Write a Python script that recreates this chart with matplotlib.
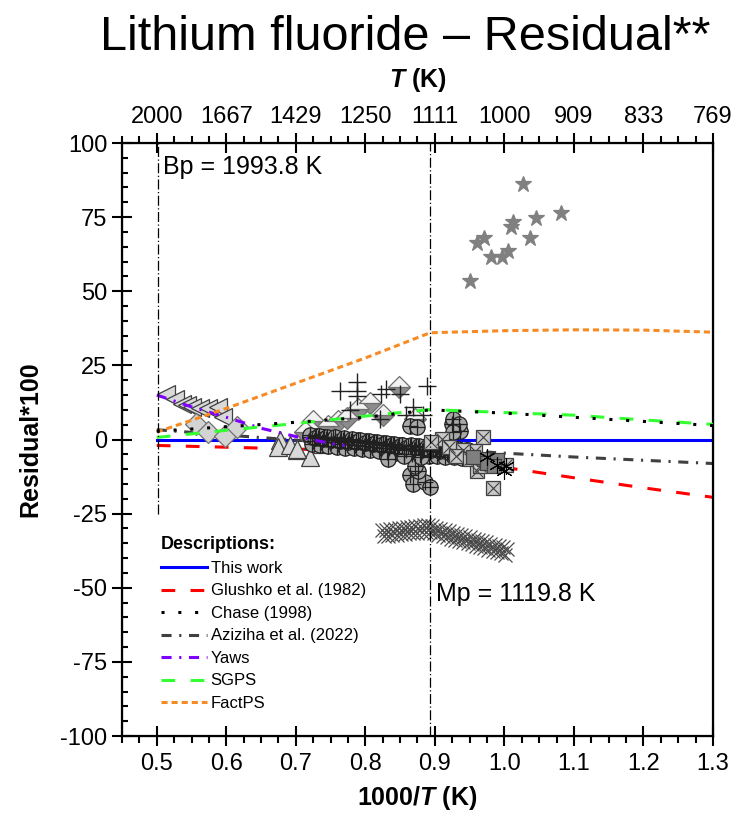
import matplotlib
matplotlib.use("Agg")
import matplotlib.pyplot as plt
from matplotlib.ticker import MultipleLocator, FixedLocator

plt.rcParams['font.family'] = ['Liberation Sans', 'DejaVu Sans']
plt.rcParams['axes.unicode_minus'] = False
plt.rcParams['mathtext.fontset'] = 'custom'
plt.rcParams['mathtext.rm'] = 'Liberation Sans:bold'
plt.rcParams['mathtext.it'] = 'Liberation Sans:italic:bold'

# model curves (1000/T grid, residual*100)
model_x = [0.5, 0.6, 0.7, 0.8, 0.893, 1.0, 1.1, 1.2, 1.3]
this_work = [0, 0, 0, 0, 0, 0, 0, 0, 0]
glushko = [-2.0, -2.6, -3.2, -4.0, -5.0, -9.4, -12.9, -16.3, -19.5]
chase = [2.8, 4.3, 5.8, 7.5, 10.0, 8.9, 7.5, 6.1, 4.7]
aziziha = [3.3, 1.5, -0.2, -1.7, -3.0, -4.6, -5.9, -7.0, -8.1]
sgps = [0.7, 3.1, 5.4, 7.9, 10.1, 9.1, 8.2, 6.6, 5.1]
factps = [2.5, 10.5, 19.0, 27.5, 36.0, 36.7, 37.0, 36.9, 36.2]
yaws_x = [0.5, 0.55, 0.6, 0.65, 0.7, 0.75, 0.77]
yaws = [15.0, 11.0, 7.5, 3.8, 1.0, -1.3, -2.0]

bp_K = 1993.8
mp_K = 1119.8

# experimental points
star_x = [1.027, 1.081, 1.045, 1.012, 1.010, 1.037, 0.970, 0.960, 1.005, 0.981, 0.997, 0.950]
star_y = [86.2, 76.5, 74.6, 73.3, 71.8, 68.0, 68.0, 66.3, 63.7, 61.7, 61.5, 53.4]

ltri_x = [0.514, 0.526, 0.536, 0.543, 0.550, 0.562, 0.573, 0.588, 0.595]
ltri_y = [15.4, 13.7, 12.1, 11.5, 10.9, 10.5, 10.5, 10.9, 7.5]

diam_x = [0.557, 0.574, 0.598, 0.615]
diam_y = [5.3, 2.5, 1.3, 4.1]

half_x = [0.725, 0.746, 0.761, 0.773, 0.790, 0.806, 0.826, 0.849, 0.871, 0.722, 0.713]
half_y = [6.4, 4.4, 6.4, 7.3, 10.3, 12.2, 8.4, 17.6, 7.0, 3.0, 2.5]

plus_x = [0.763, 0.788, 0.788, 0.788, 0.823, 0.830, 0.821, 0.778, 0.869, 0.859, 0.883, 0.888, 0.850]
plus_y = [16.5, 19.3, 16.5, 14.8, 15.4, 17.1, 7.0, 9.8, 11.1, 8.1, 8.1, 18.2, 15.4]

utri_x = [0.677, 0.675, 0.691, 0.701, 0.720, 0.725, 0.701, 0.738]
utri_y = [-0.3, -2.6, -2.0, -3.7, -6.0, -0.3, -3.1, -1.5]

circ_x = [0.720, 0.726, 0.732, 0.738, 0.744, 0.750, 0.756, 0.762, 0.768, 0.774,
          0.780, 0.786, 0.792, 0.798, 0.804, 0.810, 0.816, 0.822, 0.828, 0.834,
          0.840, 0.846, 0.852, 0.858, 0.864, 0.870, 0.876, 0.882, 0.888, 0.894,
          0.900, 0.906, 0.912, 0.918, 0.924, 0.930, 0.936, 0.942, 0.948,
          0.723, 0.729, 0.735, 0.741, 0.747, 0.753, 0.759, 0.765, 0.771, 0.777,
          0.783, 0.789, 0.795, 0.801, 0.807, 0.813, 0.819, 0.825, 0.831, 0.837,
          0.843, 0.849, 0.855, 0.861, 0.867, 0.873, 0.879, 0.885, 0.891, 0.897,
          0.903, 0.909, 0.915, 0.921, 0.927, 0.933, 0.939, 0.945,
          0.721, 0.727, 0.733, 0.739, 0.745, 0.751, 0.757, 0.763, 0.769, 0.775,
          0.781, 0.787, 0.793, 0.799, 0.805, 0.811, 0.817, 0.823, 0.829, 0.835,
          0.841, 0.847, 0.853, 0.859, 0.865, 0.871, 0.877, 0.883, 0.889, 0.895,
          0.901, 0.907, 0.913, 0.919, 0.925, 0.931, 0.937, 0.943,
          0.833, 0.864, 0.869, 0.886, 0.893, 0.876, 0.871, 0.864, 0.874, 0.924,
          0.936, 0.926, 0.934, 0.926, 0.917, 0.880, 0.855]
circ_y = [0.8, -0.5, 0.4, -0.8, 0.2, -1.0, 0.0, -1.4, -0.3, -1.6,
          -0.6, -2.0, -0.8, -2.2, -1.0, -2.4, -1.2, -2.8, -1.5, -3.0,
          -1.8, -3.3, -2.0, -3.5, -2.2, -3.6, -2.4, -3.8, -2.6, -4.0,
          -2.8, -4.2, -3.0, -4.4, -3.2, -4.6, -3.4, -4.8, -3.6,
          -1.5, 1.2, -1.8, 0.9, -2.1, 0.6, -2.4, 0.3, -2.7, 0.0,
          -3.0, -0.3, -3.3, -0.6, -3.6, -0.9, -3.9, -1.2, -4.2, -1.5,
          -4.5, -1.8, -4.8, -2.1, -5.0, -2.3, -5.2, -2.5, -5.4, -2.7,
          -5.6, -2.9, -5.8, -3.1, -6.0, -3.3, -6.2, -3.5,
          1.6, 0.5, 1.3, 0.2, 1.0, -0.1, 0.7, -0.4, 0.4, -0.7,
          0.1, -1.0, -0.2, -1.3, -0.5, -1.6, -0.8, -1.9, -1.1, -2.2,
          -1.4, -2.5, -1.7, -2.8, -2.0, -3.1, -2.3, -3.4, -2.6, -3.7,
          -2.9, -4.0, -3.2, -4.3, -3.5, -4.6, -3.8, -4.9,
          -6.5, -12.1, -15.0, -14.4, -16.1, -10.5, -8.8, 4.4, 4.1, 5.3,
          3.0, 7.0, 5.3, 2.5, -2.6, -6.0, -5.5]

sq_x = [0.969, 0.958, 0.960, 0.983, 1.003, 0.978, 0.941, 0.910, 0.895, 0.920, 0.930, 0.950, 0.965]
sq_y = [1.0, -4.0, -10.5, -16.3, -8.5, -7.4, -3.7, 0.2, -0.9, -2.5, -5.5, -6.5, -8.8]

dsq_x = [0.970, 0.975, 0.990, 0.985, 0.955]
dsq_y = [-6.5, -8.0, -7.0, -9.0, -6.0]

ast_x = [0.990, 1.000, 1.003, 0.975]
ast_y = [-8.5, -10.5, -9.0, -6.0]

cross_x = [0.824, 0.827, 0.830, 0.833, 0.836, 0.839, 0.842, 0.845, 0.848, 0.851,
           0.854, 0.857, 0.860, 0.863, 0.866, 0.869, 0.872, 0.875, 0.878, 0.881,
           0.884, 0.887, 0.890, 0.893, 0.896, 0.899, 0.902, 0.905, 0.908, 0.911,
           0.914, 0.917, 0.920, 0.923, 0.926, 0.929, 0.932, 0.935, 0.938, 0.941,
           0.944, 0.947, 0.950, 0.953, 0.956, 0.959, 0.962, 0.965, 0.968, 0.971,
           0.974, 0.977, 0.980, 0.983, 0.986, 0.989, 0.992, 0.995, 0.998, 1.001,
           1.004]
cross_y = [-30.5, -32.6, -30.4, -32.5, -30.2, -32.3, -30.1, -32.2, -29.9, -32.0,
           -29.8, -31.9, -29.6, -31.7, -29.4, -31.6, -29.3, -31.4, -29.1, -31.3,
           -29.0, -31.1, -28.9, -31.3, -29.3, -31.7, -29.7, -32.1, -30.1, -32.5,
           -30.5, -32.9, -30.9, -33.4, -31.4, -33.8, -31.8, -34.2, -32.2, -34.6,
           -32.6, -35.0, -33.0, -35.4, -33.4, -35.9, -33.9, -36.3, -34.3, -36.7,
           -34.7, -37.1, -35.1, -37.5, -35.5, -37.9, -36.0, -38.4, -36.4, -38.8,
           -36.8]

gray_edge = '#404040'

fig = plt.figure(figsize=(7.43, 8.13), dpi=100)
ax = fig.add_axes([0.1642, 0.0947, 0.7954, 0.7294])

# model lines
ax.plot(model_x, this_work, color='#0000FF', lw=2.2, zorder=1.5, label='This work')
ax.plot(model_x, glushko, color='#FF0000', lw=2.2, dashes=(4.5, 5), zorder=1.5,
        label='Glushko et al. (1982)')
ax.plot(model_x, chase, color='black', lw=2.2, dashes=(1, 4.5), zorder=3.2,
        label='Chase (1998)')
ax.plot(model_x, aziziha, color='#404040', lw=2.2, dashes=(3.3, 2.5, 0.7, 2.5), zorder=1.6,
        label='Aziziha et al. (2022)')
ax.plot(yaws_x, yaws, color='#8000FF', lw=2.2, dashes=(3.3, 2.5, 0.7, 2.5), zorder=3,
        label='Yaws')
ax.plot(model_x, sgps, color='#33FF33', lw=2.2, dashes=(4.5, 5), zorder=3,
        label='SGPS')
ax.plot(model_x, factps, color='#F68B26', lw=2.2, dashes=(2, 1.3), zorder=3,
        label='FactPS')

# scatter data
mk = dict(linestyle='none', markeredgewidth=0.9)
ax.plot(star_x, star_y, marker='*', ms=12, color='#808080', mec='#808080', **mk)
ax.plot(ltri_x, ltri_y, marker='<', ms=13, mfc='#D9D9D9', mec=gray_edge, **mk)
ax.plot(diam_x, diam_y, marker='D', ms=11, mfc='#D3D3D3', mec='#707070', **mk)
ax.plot(half_x, half_y, marker='D', ms=11, fillstyle='bottom', mfc='#8C8C8C',
        markerfacecoloralt='#F2F2F2', mec='#707070', **mk)
ax.plot(plus_x, plus_y, marker='+', ms=13, color='black', mec='#202020',
        linestyle='none', markeredgewidth=1.0)
ax.plot(utri_x, utri_y, marker='^', ms=13, mfc='#D9D9D9', mec=gray_edge, **mk)
ax.plot(circ_x, circ_y, marker='o', ms=11, mfc='#A8A8A8', mec='#202020', **mk)
ax.plot(circ_x, circ_y, marker='+', ms=11, color='#202020', linestyle='none',
        markeredgewidth=0.9)
ax.plot(sq_x, sq_y, marker='s', ms=10, mfc='#C8C8C8', mec=gray_edge, **mk)
ax.plot(sq_x, sq_y, marker='x', ms=8, color='#404040', linestyle='none',
        markeredgewidth=0.8)
ax.plot(dsq_x, dsq_y, marker='s', ms=10, mfc='#7F7F7F', mec=gray_edge, **mk)
ax.plot(ast_x, ast_y, marker=(6, 2, 0), ms=12, color='black', mec='black',
        linestyle='none', markeredgewidth=0.8)
ax.plot(cross_x, cross_y, marker='x', ms=10, color='#4A4A4A', mec='#4A4A4A',
        linestyle='none', markeredgewidth=0.9)

# boiling and melting points
ax.vlines(1000 / bp_K, -25, 100, colors='black', linestyles=(0, (8, 2, 1, 2)), lw=0.9, zorder=4)
ax.axvline(1000 / mp_K, color='black', linestyle=(0, (8, 2, 1, 2)), lw=0.9, zorder=4)
ax.text(1000 / bp_K + 0.008, 92, 'Bp = %.1f K' % bp_K, fontsize=18, va='center', ha='left')
ax.text(1000 / mp_K + 0.008, -52, 'Mp = %.1f K' % mp_K, fontsize=18, va='center', ha='left')

ax.set_xlim(0.45, 1.3)
ax.set_ylim(-100, 100)
ax.xaxis.set_major_locator(MultipleLocator(0.1))
ax.xaxis.set_minor_locator(MultipleLocator(0.025))
ax.yaxis.set_major_locator(MultipleLocator(25))
ax.yaxis.set_minor_locator(MultipleLocator(5))
ax.xaxis.set_major_formatter(plt.FuncFormatter(lambda v, p: '%.1f' % v))
ax.set_xticks([0.5, 0.6, 0.7, 0.8, 0.9, 1.0, 1.1, 1.2, 1.3])
ax.tick_params(axis='both', which='major', direction='inout', length=15, width=1.5,
               labelsize=17)
ax.tick_params(axis='x', which='major', pad=5)
ax.tick_params(axis='y', which='major', pad=3)
ax.tick_params(axis='y', which='minor', direction='in', length=4, width=1.5)
ax.tick_params(axis='x', which='minor', direction='out', length=5, width=1.5)
for s in ax.spines.values():
    s.set_linewidth(1.6)

ax.set_xlabel(r'1000/$\mathit{T}$ (K)', fontsize=18, fontweight='bold', labelpad=6)
ax.set_ylabel('Residual*100', fontsize=18, fontweight='bold', labelpad=13)

# top axis in kelvin
top = ax.twiny()
top.set_xlim(ax.get_xlim())
top_ticks = [0.5, 0.6, 0.7, 0.8, 0.9, 1.0, 1.1, 1.2, 1.3]
top.xaxis.set_major_locator(FixedLocator(top_ticks))
top.set_xticklabels(['%d' % round(1000 / t) for t in top_ticks])
top.xaxis.set_minor_locator(MultipleLocator(0.025))
top.tick_params(axis='x', which='major', direction='inout', length=15, width=1.5,
                labelsize=17, pad=3)
top.tick_params(axis='x', which='minor', direction='out', length=5, width=1.5)
top.set_xlabel(r'$\mathit{T}$ (K)', fontsize=18, fontweight='bold', labelpad=14)

leg = ax.legend(loc='upper left', bbox_to_anchor=(0.04, 0.362), frameon=False,
                fontsize=12, handlelength=2.8, handletextpad=0.2, labelspacing=0.45,
                title='Descriptions:', alignment='left',
                title_fontproperties={'weight': 'bold', 'size': 13})

fig.suptitle('Lithium fluoride \u2013 Residual**', fontsize=35, x=0.545, y=0.982)

fig.savefig('out.png', dpi=100)
